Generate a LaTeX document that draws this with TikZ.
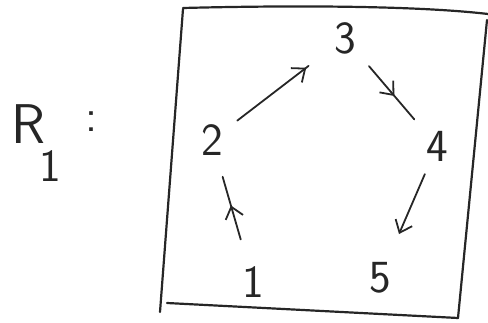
\documentclass[tikz,border=0pt]{standalone}
\usetikzlibrary{arrows.meta,decorations.markings}
\tikzset{
  lbl/.style={font=\sffamily\fontsize{46}{50}\selectfont, inner sep=0pt, text=black!85},
  stroke/.style={line width=1.8pt, black!85, line cap=round},
  boxline/.style={line width=2.2pt, black!85, line cap=round, line join=round},
  midarr/.style={postaction={decorate}, decoration={markings,
      mark=at position #1 with {\arrow{Straight Barb[length=11pt,width=18pt,line width=1.8pt]}}}}
}
\begin{document}
\begin{tikzpicture}[x=1pt,y=-1pt]
\useasboundingbox (0,0) rectangle (488,323);
% frame
\draw[boxline] (183,8) .. controls (300,5) and (420,6) .. (488,14);
\draw[boxline] (487,20) -- (458,318);
\draw[boxline] (458,318) -- (167,303);
\draw[boxline] (160,312) -- (183,9);
% label R1:
\node[lbl, font=\sffamily\fontsize{56}{60}\selectfont] (R) at (28,124) {R};
\node[lbl] (sub) at (50,166) {1};
\node[lbl] (colon) at (92,122) {:};
% vertices
\node[lbl] (n3) at (345,38) {3};
\node[lbl] (n2) at (212,140) {2};
\node[lbl] (n4) at (437,146) {4};
\node[lbl] (n1) at (253,282) {1};
\node[lbl] (n5) at (380,278) {5};
% edges
\draw[stroke, midarr=0.75, shorten <=18pt, shorten >=32pt] (n2) -- (n3);
\draw[stroke, midarr=0.55, shorten <=20pt, shorten >=18pt] (n3) -- (n4);
\draw[stroke, midarr=0.72, shorten <=14pt, shorten >=34pt] (n4) -- (n5);
\draw[stroke, midarr=0.55, shorten <=28pt, shorten >=22pt] (n1) -- (n2);
\end{tikzpicture}
\end{document}
